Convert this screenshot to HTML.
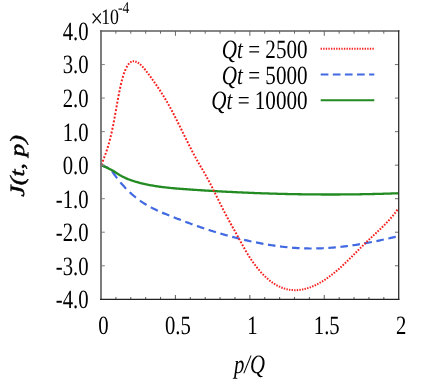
<!DOCTYPE html>
<html><head><meta charset="utf-8"><title>plot</title>
<style>
html,body{margin:0;padding:0;background:#fff;}
svg{display:block;will-change:transform;text-rendering:geometricPrecision;font-family:"Liberation Serif",serif;}
</style></head>
<body>
<svg width="436" height="382" viewBox="0 0 436 382">
<rect width="436" height="382" fill="#fff"/>
<!-- curves -->
<path d="M101.20,165.20 L102.40,165.65 L103.60,166.11 L104.80,166.56 L106.00,167.02 L107.19,167.49 L108.35,168.08 M112.04,171.16 L112.86,172.37 L113.69,173.56 L114.53,174.75 L115.38,175.92 L116.25,177.08 L117.12,178.23 M120.40,182.35 L121.32,183.44 L122.25,184.51 L123.19,185.57 L124.13,186.61 L125.09,187.64 L126.06,188.66 M129.71,192.24 L130.72,193.18 L131.75,194.10 L132.78,195.00 L133.82,195.89 L134.87,196.75 L135.93,197.60 M139.90,200.57 L141.00,201.34 L142.11,202.08 L143.22,202.81 L144.34,203.53 L145.47,204.22 L146.60,204.90 M150.81,207.26 L151.97,207.87 L153.13,208.46 L154.30,209.04 L155.46,209.61 L156.64,210.16 L157.81,210.70 M162.16,212.62 L163.35,213.12 L164.54,213.61 L165.73,214.10 L166.92,214.58 L168.12,215.06 L169.31,215.54 M173.70,217.27 L174.90,217.74 L176.10,218.20 L177.29,218.67 L178.49,219.13 L179.69,219.59 L180.89,220.05 M185.30,221.72 L186.50,222.17 L187.70,222.61 L188.90,223.05 L190.10,223.50 L191.30,223.93 L192.51,224.37 M196.94,225.95 L198.14,226.37 L199.35,226.79 L200.56,227.21 L201.76,227.62 L202.97,228.03 L204.18,228.44 M208.63,229.91 L209.85,230.30 L211.06,230.68 L212.27,231.07 L213.49,231.45 L214.70,231.82 L215.92,232.20 M220.40,233.54 L221.62,233.90 L222.84,234.25 L224.06,234.60 L225.28,234.95 L226.50,235.29 L227.72,235.63 M232.22,236.85 L233.44,237.17 L234.67,237.49 L235.89,237.81 L237.12,238.12 L238.35,238.43 L239.57,238.74 M244.09,239.83 L245.32,240.12 L246.55,240.40 L247.78,240.68 L249.02,240.96 L250.25,241.23 L251.48,241.50 M256.02,242.45 L257.25,242.70 L258.49,242.94 L259.72,243.18 L260.96,243.42 L262.20,243.65 L263.44,243.87 M267.99,244.67 L269.23,244.87 L270.47,245.07 L271.71,245.26 L272.96,245.45 L274.20,245.64 L275.44,245.82 M280.01,246.43 L281.26,246.58 L282.50,246.73 L283.75,246.87 L284.99,247.01 L286.24,247.14 L287.49,247.27 M292.07,247.68 L293.32,247.78 L294.57,247.88 L295.82,247.96 L297.07,248.04 L298.32,248.12 L299.56,248.18 M304.16,248.38 L305.41,248.42 L306.66,248.45 L307.91,248.47 L309.16,248.49 L310.41,248.50 L311.66,248.51 M316.26,248.47 L317.51,248.44 L318.76,248.41 L320.01,248.37 L321.26,248.32 L322.51,248.27 L323.76,248.21 M328.35,247.95 L329.60,247.87 L330.85,247.77 L332.10,247.68 L333.34,247.58 L334.59,247.47 L335.84,247.35 M340.42,246.89 L341.67,246.75 L342.91,246.61 L344.16,246.46 L345.40,246.31 L346.65,246.15 L347.89,245.99 M352.46,245.35 L353.71,245.17 L354.95,244.98 L356.19,244.79 L357.43,244.59 L358.67,244.39 L359.91,244.19 M364.47,243.40 L365.70,243.18 L366.94,242.95 L368.18,242.72 L369.42,242.49 L370.65,242.25 L371.89,242.01 M376.43,241.10 L377.67,240.84 L378.90,240.58 L380.13,240.32 L381.37,240.05 L382.60,239.79 L383.83,239.52 M388.36,238.50 L389.59,238.22 L390.82,237.93 L392.05,237.65 L393.28,237.36 L394.51,237.06 L395.74,236.77" fill="none" stroke="#4169e1" stroke-width="2.2"/>
<path d="M101.20,164.90 L113.07,170.67 L114.22,171.50 L115.36,172.31 L116.51,173.07 L117.65,173.80 L118.80,174.50 L119.94,175.17 L121.09,175.81 L122.23,176.42 L123.38,177.00 L124.52,177.55 L125.66,178.08 L126.81,178.58 L127.95,179.06 L129.10,179.51 L130.24,179.95 L131.39,180.36 L132.53,180.75 L133.68,181.13 L134.82,181.49 L135.97,181.83 L137.11,182.16 L138.26,182.47 L139.40,182.77 L140.55,183.06 L141.69,183.34 L142.84,183.62 L143.98,183.88 L145.13,184.13 L146.27,184.38 L147.42,184.61 L148.56,184.84 L149.70,185.06 L150.85,185.28 L151.99,185.48 L153.14,185.68 L154.28,185.87 L155.43,186.06 L156.57,186.24 L157.72,186.41 L158.86,186.57 L160.01,186.74 L161.15,186.89 L162.30,187.04 L163.44,187.18 L164.59,187.32 L165.73,187.46 L166.88,187.58 L168.02,187.71 L169.17,187.83 L170.31,187.95 L171.46,188.06 L172.60,188.17 L173.74,188.27 L174.89,188.38 L176.03,188.48 L177.18,188.57 L178.32,188.67 L179.47,188.76 L180.61,188.85 L181.76,188.93 L182.90,189.02 L184.05,189.10 L185.19,189.19 L186.34,189.27 L187.48,189.35 L188.63,189.43 L189.77,189.51 L190.92,189.59 L192.06,189.66 L193.21,189.74 L194.35,189.82 L195.50,189.90 L196.64,189.97 L197.78,190.05 L198.93,190.12 L200.07,190.19 L201.22,190.27 L202.36,190.34 L203.51,190.41 L204.65,190.48 L205.80,190.56 L206.94,190.63 L208.09,190.70 L209.23,190.76 L210.38,190.83 L211.52,190.90 L212.67,190.97 L213.81,191.04 L214.96,191.10 L216.10,191.17 L217.25,191.23 L218.39,191.30 L219.54,191.36 L220.68,191.42 L221.82,191.49 L222.97,191.55 L224.11,191.61 L225.26,191.67 L226.40,191.73 L227.55,191.79 L228.69,191.85 L229.84,191.91 L230.98,191.96 L232.13,192.02 L233.27,192.08 L234.42,192.13 L235.56,192.19 L236.71,192.24 L237.85,192.29 L239.00,192.35 L240.14,192.40 L241.29,192.45 L242.43,192.50 L243.58,192.55 L244.72,192.60 L245.86,192.65 L247.01,192.70 L248.15,192.75 L249.30,192.80 L250.44,192.85 L251.59,192.89 L252.73,192.94 L253.88,192.98 L255.02,193.03 L256.17,193.07 L257.31,193.11 L258.46,193.16 L259.60,193.20 L260.75,193.24 L261.89,193.28 L263.04,193.32 L264.18,193.36 L265.33,193.40 L266.47,193.43 L267.62,193.47 L268.76,193.51 L269.90,193.54 L271.05,193.58 L272.19,193.61 L273.34,193.65 L274.48,193.68 L275.63,193.71 L276.77,193.75 L277.92,193.78 L279.06,193.81 L280.21,193.84 L281.35,193.87 L282.50,193.90 L283.64,193.92 L284.79,193.95 L285.93,193.98 L287.08,194.01 L288.22,194.03 L289.37,194.06 L290.51,194.08 L291.66,194.10 L292.80,194.13 L293.94,194.15 L295.09,194.17 L296.23,194.19 L297.38,194.21 L298.52,194.23 L299.67,194.25 L300.81,194.27 L301.96,194.28 L303.10,194.30 L304.25,194.32 L305.39,194.33 L306.54,194.35 L307.68,194.36 L308.83,194.37 L309.97,194.39 L311.12,194.40 L312.26,194.41 L313.41,194.42 L314.55,194.43 L315.70,194.44 L316.84,194.45 L317.98,194.46 L319.13,194.46 L320.27,194.47 L321.42,194.48 L322.56,194.48 L323.71,194.49 L324.85,194.49 L326.00,194.49 L327.14,194.50 L328.29,194.50 L329.43,194.50 L330.58,194.50 L331.72,194.50 L332.87,194.50 L334.01,194.50 L335.16,194.49 L336.30,194.49 L337.45,194.49 L338.59,194.48 L339.74,194.48 L340.88,194.47 L342.03,194.46 L343.17,194.46 L344.31,194.45 L345.46,194.44 L346.60,194.43 L347.75,194.42 L348.89,194.41 L350.04,194.40 L351.18,194.38 L352.33,194.37 L353.47,194.36 L354.62,194.34 L355.76,194.33 L356.91,194.31 L358.05,194.30 L359.20,194.28 L360.34,194.26 L361.49,194.24 L362.63,194.22 L363.78,194.20 L364.92,194.18 L366.07,194.16 L367.21,194.14 L368.35,194.11 L369.50,194.09 L370.64,194.06 L371.79,194.04 L372.93,194.01 L374.08,193.99 L375.22,193.96 L376.37,193.93 L377.51,193.90 L378.66,193.87 L379.80,193.84 L380.95,193.81 L382.09,193.78 L383.24,193.75 L384.38,193.71 L385.53,193.68 L386.67,193.64 L387.82,193.61 L388.96,193.57 L390.11,193.53 L391.25,193.50 L392.39,193.46 L393.54,193.42 L394.68,193.38 L395.83,193.34 L396.97,193.30 L398.12,193.25" fill="none" stroke="#228b22" stroke-width="2.3"/>
<path d="M101.30,164.84 L102.01,163.08 M102.64,161.52 L103.35,159.75 M103.96,158.17 L104.64,156.38 M105.23,154.78 L105.87,152.97 M106.43,151.34 L107.04,149.50 M107.56,147.85 L108.13,145.98 M108.62,144.31 L109.16,142.41 M109.61,140.72 L110.11,138.80 M110.54,137.09 L111.01,135.16 M111.41,133.44 L111.84,131.49 M112.22,129.75 L112.63,127.79 M112.98,126.04 L113.37,124.07 M113.71,122.32 L114.08,120.34 M114.41,118.58 L114.77,116.60 M115.09,114.84 L115.45,112.85 M115.77,111.09 L116.12,109.10 M116.44,107.34 L116.79,105.35 M117.11,103.59 L117.47,101.61 M117.79,99.85 L118.16,97.86 M118.49,96.11 L118.86,94.13 M119.20,92.38 L119.60,90.41 M119.96,88.67 L120.38,86.71 M120.76,84.98 L121.22,83.04 M121.64,81.32 L122.14,79.41 M122.60,77.72 L123.16,75.84 M123.69,74.20 L124.32,72.37 M124.92,70.78 L125.66,69.05 M126.37,67.57 L127.25,65.98 M128.11,64.69 L129.19,63.41 M130.24,62.47 L131.52,61.72 M132.71,61.35 L134.09,61.27 M135.30,61.46 L136.64,61.94 M137.79,62.55 L139.05,63.40 M140.12,64.27 L141.29,65.36 M142.30,66.39 L143.40,67.62 M144.36,68.74 L145.42,70.05 M146.35,71.24 L147.39,72.60 M148.30,73.81 L149.32,75.19 M150.22,76.42 L151.24,77.81 M152.14,79.05 L153.14,80.46 M154.03,81.71 L155.02,83.13 M155.90,84.40 L156.89,85.84 M157.75,87.13 L158.73,88.58 M159.58,89.88 L160.54,91.36 M161.38,92.68 L162.33,94.18 M163.16,95.51 L164.09,97.03 M164.91,98.38 L165.83,99.92 M166.63,101.29 L167.53,102.85 M168.32,104.24 L169.21,105.82 M169.98,107.22 L170.85,108.82 M171.62,110.24 L172.47,111.86 M173.22,113.29 L174.07,114.92 M174.81,116.36 L175.65,118.00 M176.38,119.46 L177.21,121.10 M177.94,122.56 L178.76,124.22 M179.49,125.68 L180.30,127.34 M181.03,128.81 L181.84,130.47 M182.56,131.94 L183.38,133.60 M184.10,135.07 L184.91,136.73 M185.64,138.20 L186.45,139.85 M187.18,141.32 L188.00,142.97 M188.73,144.43 L189.56,146.08 M190.30,147.53 L191.13,149.17 M191.87,150.62 L192.72,152.24 M193.47,153.68 L194.32,155.29 M195.09,156.72 L195.96,158.31 M196.73,159.72 L197.62,161.30 M198.41,162.69 L199.31,164.24 M200.11,165.62 L201.02,167.16 M201.83,168.53 L202.74,170.08 M203.54,171.45 L204.45,173.00 M205.24,174.39 L206.13,175.96 M206.91,177.36 L207.78,178.96 M208.54,180.38 L209.40,182.00 M210.14,183.44 L210.98,185.07 M211.72,186.52 L212.55,188.17 M213.28,189.63 L214.10,191.28 M214.82,192.75 L215.64,194.41 M216.36,195.88 L217.18,197.54 M217.90,199.01 L218.71,200.67 M219.44,202.14 L220.26,203.79 M220.98,205.25 L221.81,206.90 M222.55,208.36 L223.38,209.99 M224.13,211.44 L224.97,213.06 M225.73,214.50 L226.58,216.11 M227.34,217.53 L228.21,219.14 M228.98,220.55 L229.85,222.15 M230.62,223.56 L231.49,225.15 M232.27,226.56 L233.15,228.14 M233.93,229.55 L234.81,231.13 M235.59,232.53 L236.47,234.12 M237.24,235.52 L238.12,237.11 M238.89,238.52 L239.77,240.12 M240.54,241.53 L241.41,243.13 M242.18,244.54 L243.05,246.13 M243.83,247.53 L244.72,249.11 M245.51,250.49 L246.42,252.04 M247.24,253.40 L248.16,254.92 M249.00,256.25 L249.95,257.74 M250.81,259.04 L251.78,260.49 M252.66,261.76 L253.66,263.17 M254.56,264.40 L255.59,265.77 M256.51,266.97 L257.57,268.29 M258.52,269.45 L259.60,270.72 M260.57,271.83 L261.68,273.05 M262.67,274.10 L263.81,275.27 M264.83,276.27 L266.00,277.37 M267.04,278.31 L268.23,279.34 M269.30,280.22 L270.52,281.17 M271.62,281.99 L272.87,282.86 M273.98,283.60 L275.25,284.39 M276.39,285.06 L277.69,285.76 M278.85,286.34 L280.16,286.95 M281.34,287.45 L282.67,287.96 M283.86,288.37 L285.21,288.78 M286.42,289.11 L287.78,289.42 M288.99,289.65 L290.36,289.87 M291.58,290.01 L292.95,290.12 M294.18,290.18 L295.55,290.20 M296.77,290.17 L298.15,290.09 M299.37,289.97 L300.74,289.80 M301.96,289.61 L303.33,289.35 M304.54,289.08 L305.89,288.74 M307.09,288.40 L308.44,287.98 M309.63,287.57 L310.97,287.08 M312.15,286.61 L313.48,286.04 M314.65,285.52 L315.96,284.89 M317.12,284.31 L318.42,283.62 M319.56,282.99 L320.85,282.25 M321.98,281.57 L323.26,280.79 M324.38,280.06 L325.64,279.23 M326.75,278.47 L328.00,277.59 M329.10,276.80 L330.33,275.88 M331.42,275.05 L332.64,274.10 M333.72,273.24 L334.93,272.26 M336.00,271.37 L337.19,270.36 M338.25,269.44 L339.44,268.40 M340.49,267.46 L341.67,266.40 M342.71,265.44 L343.88,264.35 M344.91,263.38 L346.07,262.27 M347.10,261.28 L348.25,260.16 M349.28,259.16 L350.43,258.03 M351.44,257.02 L352.59,255.88 M353.61,254.87 L354.75,253.73 M355.77,252.71 L356.91,251.56 M357.92,250.54 L359.07,249.40 M360.08,248.38 L361.23,247.24 M362.24,246.22 L363.39,245.09 M364.41,244.08 L365.56,242.95 M366.59,241.96 L367.74,240.84 M368.77,239.86 L369.94,238.75 M370.97,237.78 L372.14,236.69 M373.18,235.73 L374.35,234.64 M375.38,233.68 L376.55,232.60 M377.59,231.63 L378.76,230.53 M379.79,229.56 L380.95,228.45 M381.97,227.45 L383.12,226.32 M384.14,225.31 L385.28,224.15 M386.28,223.11 L387.40,221.91 M388.39,220.84 L389.50,219.62 M390.47,218.51 L391.56,217.25 M392.51,216.11 L393.58,214.80 M394.51,213.63 L395.55,212.28 M396.47,211.07 L397.48,209.68 M398.37,208.43 L398.50,208.26" fill="none" stroke="#f62020" stroke-width="2.0"/>
<!-- legend samples -->
<line x1="320.6" y1="48.8" x2="374.2" y2="48.8" stroke="#f62020" stroke-width="2.0" stroke-dasharray="1.35 1.24"/>
<line x1="320.7" y1="74.45" x2="374.3" y2="74.45" stroke="#4169e1" stroke-width="2.0" stroke-dasharray="7.7 4.4"/>
<line x1="320.7" y1="100.2" x2="374.3" y2="100.2" stroke="#228b22" stroke-width="2.0"/>
<!-- axes box -->
<line x1="115.89" y1="299.3" x2="115.89" y2="296.9" stroke="#666" stroke-width="1.1"/>
<line x1="115.89" y1="31.0" x2="115.89" y2="33.7" stroke="#555" stroke-width="0.9"/>
<line x1="130.77" y1="299.3" x2="130.77" y2="296.9" stroke="#666" stroke-width="1.1"/>
<line x1="130.77" y1="31.0" x2="130.77" y2="33.7" stroke="#555" stroke-width="0.9"/>
<line x1="145.66" y1="299.3" x2="145.66" y2="296.9" stroke="#666" stroke-width="1.1"/>
<line x1="145.66" y1="31.0" x2="145.66" y2="33.7" stroke="#555" stroke-width="0.9"/>
<line x1="160.54" y1="299.3" x2="160.54" y2="296.9" stroke="#666" stroke-width="1.1"/>
<line x1="160.54" y1="31.0" x2="160.54" y2="33.7" stroke="#555" stroke-width="0.9"/>
<line x1="175.43" y1="299.3" x2="175.43" y2="295.1" stroke="#666" stroke-width="1.1"/>
<line x1="175.43" y1="31.0" x2="175.43" y2="35.8" stroke="#555" stroke-width="0.9"/>
<line x1="190.31" y1="299.3" x2="190.31" y2="296.9" stroke="#666" stroke-width="1.1"/>
<line x1="190.31" y1="31.0" x2="190.31" y2="33.7" stroke="#555" stroke-width="0.9"/>
<line x1="205.19" y1="299.3" x2="205.19" y2="296.9" stroke="#666" stroke-width="1.1"/>
<line x1="205.19" y1="31.0" x2="205.19" y2="33.7" stroke="#555" stroke-width="0.9"/>
<line x1="220.08" y1="299.3" x2="220.08" y2="296.9" stroke="#666" stroke-width="1.1"/>
<line x1="220.08" y1="31.0" x2="220.08" y2="33.7" stroke="#555" stroke-width="0.9"/>
<line x1="234.97" y1="299.3" x2="234.97" y2="296.9" stroke="#666" stroke-width="1.1"/>
<line x1="234.97" y1="31.0" x2="234.97" y2="33.7" stroke="#555" stroke-width="0.9"/>
<line x1="249.85" y1="299.3" x2="249.85" y2="295.1" stroke="#666" stroke-width="1.1"/>
<line x1="249.85" y1="31.0" x2="249.85" y2="35.8" stroke="#555" stroke-width="0.9"/>
<line x1="264.74" y1="299.3" x2="264.74" y2="296.9" stroke="#666" stroke-width="1.1"/>
<line x1="264.74" y1="31.0" x2="264.74" y2="33.7" stroke="#555" stroke-width="0.9"/>
<line x1="279.62" y1="299.3" x2="279.62" y2="296.9" stroke="#666" stroke-width="1.1"/>
<line x1="279.62" y1="31.0" x2="279.62" y2="33.7" stroke="#555" stroke-width="0.9"/>
<line x1="294.50" y1="299.3" x2="294.50" y2="296.9" stroke="#666" stroke-width="1.1"/>
<line x1="294.50" y1="31.0" x2="294.50" y2="33.7" stroke="#555" stroke-width="0.9"/>
<line x1="309.39" y1="299.3" x2="309.39" y2="296.9" stroke="#666" stroke-width="1.1"/>
<line x1="309.39" y1="31.0" x2="309.39" y2="33.7" stroke="#555" stroke-width="0.9"/>
<line x1="324.27" y1="299.3" x2="324.27" y2="295.1" stroke="#666" stroke-width="1.1"/>
<line x1="324.27" y1="31.0" x2="324.27" y2="35.8" stroke="#555" stroke-width="0.9"/>
<line x1="339.16" y1="299.3" x2="339.16" y2="296.9" stroke="#666" stroke-width="1.1"/>
<line x1="339.16" y1="31.0" x2="339.16" y2="33.7" stroke="#555" stroke-width="0.9"/>
<line x1="354.05" y1="299.3" x2="354.05" y2="296.9" stroke="#666" stroke-width="1.1"/>
<line x1="354.05" y1="31.0" x2="354.05" y2="33.7" stroke="#555" stroke-width="0.9"/>
<line x1="368.93" y1="299.3" x2="368.93" y2="296.9" stroke="#666" stroke-width="1.1"/>
<line x1="368.93" y1="31.0" x2="368.93" y2="33.7" stroke="#555" stroke-width="0.9"/>
<line x1="383.81" y1="299.3" x2="383.81" y2="296.9" stroke="#666" stroke-width="1.1"/>
<line x1="383.81" y1="31.0" x2="383.81" y2="33.7" stroke="#555" stroke-width="0.9"/>
<line x1="101.0" y1="64.54" x2="104.8" y2="64.54" stroke="#8a8a8a" stroke-width="1.1"/>
<line x1="398.7" y1="64.54" x2="394.9" y2="64.54" stroke="#7a7a7a" stroke-width="1.1"/>
<line x1="101.0" y1="98.08" x2="104.8" y2="98.08" stroke="#8a8a8a" stroke-width="1.1"/>
<line x1="398.7" y1="98.08" x2="394.9" y2="98.08" stroke="#7a7a7a" stroke-width="1.1"/>
<line x1="101.0" y1="131.61" x2="104.8" y2="131.61" stroke="#8a8a8a" stroke-width="1.1"/>
<line x1="398.7" y1="131.61" x2="394.9" y2="131.61" stroke="#7a7a7a" stroke-width="1.1"/>
<line x1="101.0" y1="165.15" x2="104.8" y2="165.15" stroke="#8a8a8a" stroke-width="1.1"/>
<line x1="398.7" y1="165.15" x2="394.9" y2="165.15" stroke="#7a7a7a" stroke-width="1.1"/>
<line x1="101.0" y1="198.69" x2="104.8" y2="198.69" stroke="#8a8a8a" stroke-width="1.1"/>
<line x1="398.7" y1="198.69" x2="394.9" y2="198.69" stroke="#7a7a7a" stroke-width="1.1"/>
<line x1="101.0" y1="232.23" x2="104.8" y2="232.23" stroke="#8a8a8a" stroke-width="1.1"/>
<line x1="398.7" y1="232.23" x2="394.9" y2="232.23" stroke="#7a7a7a" stroke-width="1.1"/>
<line x1="101.0" y1="265.76" x2="104.8" y2="265.76" stroke="#8a8a8a" stroke-width="1.1"/>
<line x1="398.7" y1="265.76" x2="394.9" y2="265.76" stroke="#7a7a7a" stroke-width="1.1"/>
<line x1="101.0" y1="30.2" x2="101.0" y2="300.0" stroke="#6e6e6e" stroke-width="1.8"/>
<line x1="100.1" y1="31.0" x2="399.35" y2="31.0" stroke="#5c5c5c" stroke-width="1.5"/>
<line x1="398.7" y1="30.2" x2="398.7" y2="300.0" stroke="#2e2e2e" stroke-width="1.3"/>
<line x1="100.1" y1="299.4" x2="399.35" y2="299.4" stroke="#222" stroke-width="1.3"/>
<g fill="#000">
<text transform="translate(88.6,39.9) scale(0.785,1)" text-anchor="end" font-size="26.4" >4.0</text>
<text transform="translate(88.6,73.44) scale(0.785,1)" text-anchor="end" font-size="26.4" >3.0</text>
<text transform="translate(88.6,106.98) scale(0.785,1)" text-anchor="end" font-size="26.4" >2.0</text>
<text transform="translate(88.6,140.51) scale(0.785,1)" text-anchor="end" font-size="26.4" >1.0</text>
<text transform="translate(88.6,174.05) scale(0.785,1)" text-anchor="end" font-size="26.4" >0.0</text>
<text transform="translate(88.6,207.59) scale(0.785,1)" text-anchor="end" font-size="26.4" >-1.0</text>
<text transform="translate(88.6,241.13) scale(0.785,1)" text-anchor="end" font-size="26.4" >-2.0</text>
<text transform="translate(88.6,274.66) scale(0.785,1)" text-anchor="end" font-size="26.4" >-3.0</text>
<text transform="translate(88.6,308.2) scale(0.785,1)" text-anchor="end" font-size="26.4" >-4.0</text>
<text transform="translate(103.5,333.9) scale(0.785,1)" text-anchor="middle" font-size="26.4" >0</text>
<text transform="translate(177.93,333.9) scale(0.785,1)" text-anchor="middle" font-size="26.4" >0.5</text>
<text transform="translate(252.35,333.9) scale(0.785,1)" text-anchor="middle" font-size="26.4" >1</text>
<text transform="translate(326.77,333.9) scale(0.785,1)" text-anchor="middle" font-size="26.4" >1.5</text>
<text transform="translate(401.2,333.9) scale(0.785,1)" text-anchor="middle" font-size="26.4" >2</text>
<text transform="translate(90.4,26.6) scale(0.85,1)" text-anchor="start" font-size="26" >×</text>
<text transform="translate(101.2,24.3) scale(0.81,1)" text-anchor="start" font-size="22" >10</text>
<text transform="translate(118.1,13.4) scale(0.82,1)" text-anchor="start" font-size="16.5" >-4</text>
<text transform="translate(307.6,57.9) scale(0.80,1)" text-anchor="end" font-size="26.4"><tspan font-style="italic">Qt</tspan> = 2500</text>
<text transform="translate(307.6,83.6) scale(0.80,1)" text-anchor="end" font-size="26.4"><tspan font-style="italic">Qt</tspan> = 5000</text>
<text transform="translate(307.6,109.3) scale(0.80,1)" text-anchor="end" font-size="26.4"><tspan font-style="italic">Qt</tspan> = 10000</text>
<text transform="translate(249.5,372.6) scale(0.785,1)" text-anchor="middle" font-size="26.4" font-style="italic">p/Q</text>
<text transform="translate(24.1,165.8) scale(0.8,1) rotate(-90)" text-anchor="middle" font-size="25.4" font-style="italic" stroke="#000" stroke-width="0.55" letter-spacing="0.15">J(t, p)</text>
</g>
</svg>
</body></html>
